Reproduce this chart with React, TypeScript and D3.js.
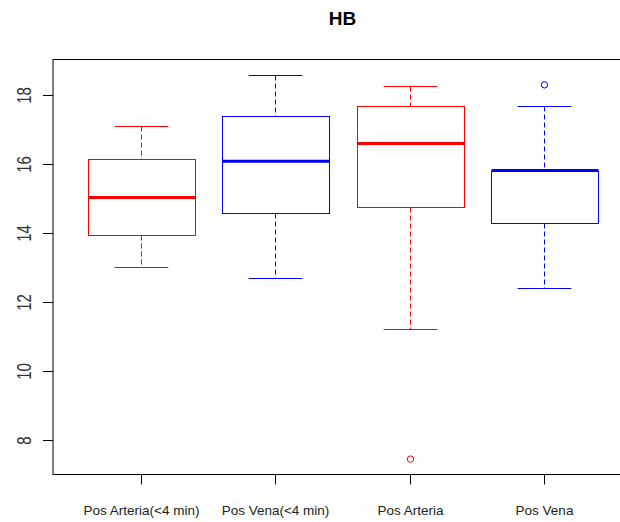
import React from "react";
import * as d3 from "d3";

// Hemoglobin (HB) by sampling site and timing
const categories = ["Pos Arteria(<4 min)", "Pos Vena(<4 min)", "Pos Arteria", "Pos Vena"];
const whiskerLow = [13.0, 12.7, 11.2, 12.4];
const q1 = [13.93, 14.58, 14.75, 14.27];
const medians = [15.02, 16.07, 16.58, 15.8];
const q3 = [16.14, 17.37, 17.66, 15.78];
const whiskerHigh = [17.08, 18.57, 18.26, 17.66];
const outliers: number[][] = [[], [], [7.44], [18.28]];
const boxColors = ["#ff0000", "#0000ff", "#ff0000", "#0000ff"];
const yTicks = [8, 10, 12, 14, 16, 18];

const W = 620;
const H = 522;
const plot = { left: 53, top: 59.5, right: 632, bottom: 474.5 };
const FONT = "Arial, 'Liberation Sans', Helvetica, sans-serif";

export default function App() {
  const all = [...whiskerLow, ...whiskerHigh, ...outliers.flat()];
  const [lo, hi] = d3.extent(all) as [number, number];
  const pad = (hi - lo) * 0.04;
  const y = d3.scaleLinear().domain([lo - pad, hi + pad]).range([plot.bottom, plot.top]);
  const n = categories.length;
  // x range [0.5, n + 0.5] widened by 4% on each side
  const x = d3
    .scaleLinear()
    .domain([0.5 - n * 0.04, n + 0.5 + n * 0.04])
    .range([plot.left, plot.right]);
  const unit = x(1) - x(0);
  const boxHalf = unit * 0.4;
  const capHalf = unit * 0.2;

  return (
    <svg
      width={W}
      height={H}
      style={{ position: "absolute", left: 0, top: 0, background: "#fff" }}
      fontFamily={FONT}
    >
      <rect x={0} y={0} width={W} height={H} fill="#fff" />
      <text x={(plot.left + plot.right) / 2} y={25} textAnchor="middle" fontSize={19} fontWeight="bold" fill="#000">
        HB
      </text>

      {categories.map((c, i) => {
        const cx = Math.round(x(i + 1)) + 0.5;
        const col = boxColors[i];
        const yr = (v: number) => Math.round(y(v)) + 0.5;
        const bx = Math.round(cx - boxHalf) + 0.5;
        const bw = Math.round(boxHalf * 2);
        return (
          <g key={c}>
            <line x1={cx} x2={cx} y1={yr(whiskerHigh[i])} y2={yr(q3[i])} stroke={col} strokeDasharray="5,3" />
            <line x1={cx} x2={cx} y1={yr(q1[i])} y2={yr(whiskerLow[i])} stroke={col} strokeDasharray="5,3" />
            <line x1={cx - capHalf} x2={cx + capHalf} y1={yr(whiskerHigh[i])} y2={yr(whiskerHigh[i])} stroke={col} />
            <line x1={cx - capHalf} x2={cx + capHalf} y1={yr(whiskerLow[i])} y2={yr(whiskerLow[i])} stroke={col} />
            <rect x={bx} y={yr(q3[i])} width={bw} height={yr(q1[i]) - yr(q3[i])} fill="none" stroke={col} />
            <line x1={bx} x2={bx + bw} y1={y(medians[i])} y2={y(medians[i])} stroke={col} strokeWidth={3} />
            {outliers[i].map((v, j) => (
              <circle key={j} cx={cx} cy={y(v)} r={3.2} fill="none" stroke={col} />
            ))}
          </g>
        );
      })}

      {/* frame */}
      <rect
        x={plot.left}
        y={plot.top}
        width={plot.right - plot.left}
        height={plot.bottom - plot.top}
        fill="none"
        stroke="#000"
      />

      {/* y axis */}
      {yTicks.map((t) => {
        const ty = Math.round(y(t)) + 0.5;
        return (
          <g key={t}>
            <line x1={plot.left - 10} x2={plot.left} y1={ty} y2={ty} stroke="#000" />
            <text
              transform={`translate(31,${ty}) rotate(-90) scale(1,1.3)`}
              textAnchor="middle"
              fontSize={15}
              fill="#333"
            >
              {t}
            </text>
          </g>
        );
      })}

      {/* x axis */}
      {categories.map((c, i) => {
        const cx = Math.round(x(i + 1)) + 0.5;
        return (
          <g key={c}>
            <line x1={cx} x2={cx} y1={plot.bottom} y2={plot.bottom + 10} stroke="#000" />
            <text x={cx} y={515} textAnchor="middle" fontSize={13.5} fill="#222">
              {c}
            </text>
          </g>
        );
      })}
    </svg>
  );
}
